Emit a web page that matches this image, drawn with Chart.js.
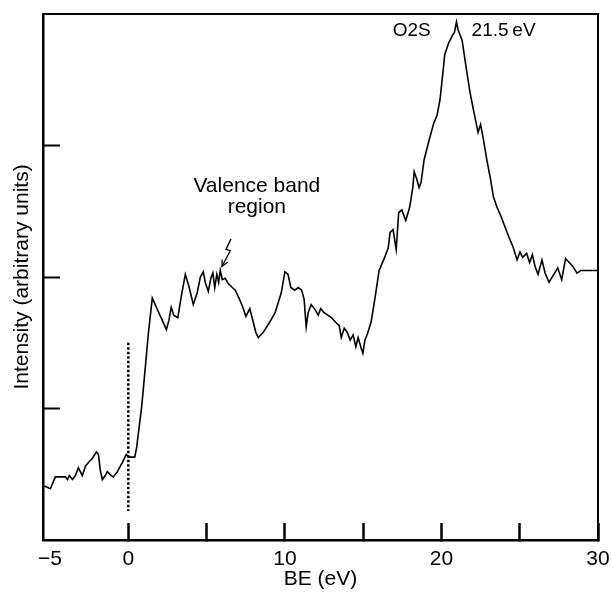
<!DOCTYPE html>
<html>
<head>
<meta charset="utf-8">
<script src="https://cdn.jsdelivr.net/npm/chart.js@4/dist/chart.umd.min.js"></script>
<style>
    html, body { margin: 0; padding: 0; background: #fff; }
    #wrap { width: 611px; height: 592px; }
</style>
</head>
<body>
<div id="wrap"><canvas id="myChart" width="611" height="592"></canvas></div>
<script>
const COLOUR_INK = '#000';
const FONT_FAMILY = "'Liberation Sans', Arial, Helvetica, sans-serif";

// spectrum (BE in eV, intensity in tick units)
const beEV = [
    -5.36, -4.98, -4.66, -4.53, -4.02, -3.89, -3.77, -3.57, -3.38, -3.19, -2.94, -2.74, -2.55, -2.30, -2.04, -1.91,
    -1.79, -1.66, -1.47, -1.34, -1.09, -0.96, -0.70, -0.38, -0.13, 0.06, 0.41, 0.54, 0.67, 0.83, 0.89,
    1.09, 1.28, 1.53, 1.79, 2.17, 2.43, 2.59, 2.74, 2.90, 3.16, 3.38, 3.64, 3.89, 4.15, 4.40, 4.60, 4.79, 4.91,
    5.11, 5.27, 5.40, 5.52, 5.65, 5.77, 5.87, 6.00, 6.19, 6.38, 6.64, 6.83, 7.07, 7.31, 7.51, 7.76, 7.91, 8.14,
    8.30, 8.62, 9.00, 9.38, 9.77, 10.00, 10.20, 10.38, 10.63, 10.85, 11.07, 11.23, 11.36, 11.49, 11.68, 11.94,
    12.13, 12.29, 12.49, 12.74, 12.99, 13.21, 13.47, 13.60, 13.79, 13.98, 14.17, 14.36, 14.53, 14.68, 14.87,
    14.98, 15.11, 15.28, 15.51, 15.77, 16.02, 16.34, 16.60, 16.72, 16.91, 17.11, 17.27, 17.47, 17.72, 17.97,
    18.17, 18.26, 18.41, 18.57, 18.70, 18.89, 19.21, 19.51, 19.72, 19.91, 20.09, 20.21, 20.46, 20.71, 20.83,
    20.96, 21.06, 21.32, 21.57, 21.83, 22.08, 22.34, 22.50, 22.66, 22.90, 23.14, 23.32,
    23.55, 23.81, 24.06, 24.32, 24.57, 24.83, 25.02, 25.19, 25.44, 25.63, 25.81, 25.98, 26.17, 26.42, 26.62,
    26.87, 27.18, 27.43, 27.68, 27.93, 28.17, 28.40, 28.66, 28.91, 29.43, 29.94
];
const intensity = [
    0.41, 0.39, 0.48, 0.48, 0.48, 0.46, 0.49, 0.46, 0.49, 0.55, 0.49, 0.56, 0.59, 0.62, 0.67, 0.65,
    0.53, 0.46, 0.49, 0.52, 0.49, 0.48, 0.52, 0.59, 0.65, 0.63, 0.63, 0.71, 0.84, 0.99, 1.06,
    1.32, 1.57, 1.84, 1.77, 1.67, 1.60, 1.67, 1.77, 1.71, 1.69, 1.85, 2.02, 1.92, 1.79, 1.88, 2.00, 2.04, 1.96,
    1.89, 1.99, 2.03, 1.92, 2.02, 1.96, 2.05, 1.98, 1.99, 1.95, 1.92, 1.90, 1.84, 1.77, 1.70, 1.76, 1.69, 1.58,
    1.54, 1.58, 1.65, 1.73, 1.88, 2.04, 2.02, 1.92, 1.90, 1.92, 1.90, 1.83, 1.62, 1.73, 1.79, 1.75,
    1.71, 1.76, 1.73, 1.71, 1.69, 1.66, 1.63, 1.54, 1.61, 1.58, 1.52, 1.56, 1.47, 1.54, 1.46,
    1.42, 1.52, 1.57, 1.66, 1.85, 2.05, 2.14, 2.22, 2.34, 2.36, 2.21, 2.49, 2.51, 2.43, 2.53,
    2.68, 2.80, 2.75, 2.68, 2.72, 2.89, 3.04, 3.17, 3.23, 3.35, 3.55, 3.69, 3.78, 3.84, 3.86,
    3.94, 3.88, 3.80, 3.60, 3.40, 3.25, 3.10, 3.16, 3.06, 2.89, 2.74, 2.61,
    2.53, 2.46, 2.38, 2.30, 2.23, 2.13, 2.19, 2.15, 2.18, 2.11, 2.17, 2.08, 2.02, 2.13, 2.03,
    1.96, 2.02, 2.07, 1.98, 2.14, 2.11, 2.08, 2.03, 2.05, 2.05, 2.05
];

// dotted Fermi level marker at 0 eV
const fermiX = [0, 0];
const fermiY = [1.50, 0.22];

const xTickValues = [-5, 0, 5, 10, 15, 20, 25, 30];
const xTickLabels = ['\u22125', '0', '', '10', '', '20', '', '30'];
const yTickValues = [1, 2, 3];

// annotations (data coordinates)
const labelTexts = ['Valence band', 'region', 'O2S', '21.5\u2009eV'];
const labelX = [8.21, 8.21, 18.10, 23.97];
const labelY = [2.69, 2.53, 3.87, 3.87];
const labelSize = [21, 21, 19, 19];
const arrowX = [6.56, 6.24, 6.51, 5.98];
const arrowY = [2.29, 2.21, 2.20, 2.08];

var spectrumData = beEV.map((v, i) => ({ x: v, y: intensity[i] }));
var fermiData = fermiX.map((v, i) => ({ x: v, y: fermiY[i] }));

const annotations = {
    id: 'annotations',
    afterDraw(chart) {
        const { ctx, chartArea, scales: { x, y } } = chart;
        ctx.save();
        // frame top + right
        ctx.strokeStyle = COLOUR_INK;
        ctx.lineWidth = 2;
        ctx.beginPath();
        ctx.moveTo(chartArea.left, chartArea.top);
        ctx.lineTo(chartArea.right, chartArea.top);
        ctx.lineTo(chartArea.right, chartArea.bottom);
        ctx.stroke();

        ctx.fillStyle = COLOUR_INK;
        ctx.textAlign = 'center';
        ctx.textBaseline = 'middle';
        labelTexts.forEach((t, i) => {
            ctx.font = labelSize[i] + 'px ' + FONT_FAMILY;
            ctx.fillText(t, x.getPixelForValue(labelX[i]), y.getPixelForValue(labelY[i]));
        });

        // zigzag arrow
        var pts = arrowX.map((v, i) => [x.getPixelForValue(v), y.getPixelForValue(arrowY[i])]);
        ctx.lineWidth = 1.3;
        ctx.beginPath();
        pts.forEach((p, i) => i ? ctx.lineTo(p[0], p[1]) : ctx.moveTo(p[0], p[1]));
        ctx.stroke();
        var tip = pts[pts.length - 1], prev = pts[pts.length - 2];
        var ang = Math.atan2(tip[1] - prev[1], tip[0] - prev[0]);
        ctx.beginPath();
        ctx.moveTo(tip[0] - 7 * Math.cos(ang - 0.45), tip[1] - 7 * Math.sin(ang - 0.45));
        ctx.lineTo(tip[0], tip[1]);
        ctx.lineTo(tip[0] - 7 * Math.cos(ang + 0.45), tip[1] - 7 * Math.sin(ang + 0.45));
        ctx.stroke();
        ctx.restore();
    }
};

var ctx = document.getElementById('myChart');
var myChart = new Chart(ctx, {
    type: 'line',
    data: {
        datasets: [{
            label: 'Spectrum',
            data: spectrumData,
            borderColor: COLOUR_INK,
            borderWidth: 1.6,
            pointRadius: 0,
            tension: 0,
            fill: false
        }, {
            label: 'Fermi level',
            data: fermiData,
            borderColor: COLOUR_INK,
            borderWidth: 2.5,
            borderDash: [2.5, 2],
            pointRadius: 0,
            fill: false
        }]
    },
    options: {
        responsive: false,
        devicePixelRatio: 1,
        animation: false,
        layout: { padding: { top: 14, right: 13, left: 0, bottom: 0 } },
        plugins: {
            legend: { display: false },
            tooltip: { enabled: false }
        },
        scales: {
            x: {
                type: 'linear',
                min: -5.45,
                max: 30,
                afterBuildTicks: (s) => { s.ticks = xTickValues.map((v) => ({ value: v })); },
                afterFit: (s) => {
                    s.height = 52;
                    s.paddingLeft = 0;
                    s.paddingRight = 0;
                },
                ticks: {
                    autoSkip: false,
                    maxRotation: 0,
                    padding: 24,
                    color: COLOUR_INK,
                    font: { family: FONT_FAMILY, size: 21 },
                    callback: (v) => xTickLabels[xTickValues.indexOf(v)]
                },
                grid: {
                    drawOnChartArea: false,
                    tickLength: -17,
                    tickWidth: 2.5,
                    tickColor: (c) => (c.tick && c.tick.value === -5) ? 'rgba(0,0,0,0)' : COLOUR_INK
                },
                border: { color: COLOUR_INK, width: 2.5 },
                title: {
                    display: true,
                    text: 'BE (eV)',
                    color: COLOUR_INK,
                    font: { family: FONT_FAMILY, size: 21 },
                    padding: { top: 0, bottom: 0 }
                }
            },
            y: {
                type: 'linear',
                min: 0,
                max: 4,
                afterBuildTicks: (s) => { s.ticks = yTickValues.map((v) => ({ value: v })); },
                afterFit: (s) => {
                    s.width = 43;
                    s.paddingTop = 0;
                    s.paddingBottom = 0;
                },
                ticks: { display: false },
                grid: {
                    drawOnChartArea: false,
                    tickLength: -17,
                    tickWidth: 2,
                    tickColor: COLOUR_INK
                },
                border: { color: COLOUR_INK, width: 2.5 },
                title: {
                    display: true,
                    text: 'Intensity (arbitrary units)',
                    color: COLOUR_INK,
                    font: { family: FONT_FAMILY, size: 21 },
                    padding: { top: 10, bottom: 0 }
                }
            }
        }
    },
    plugins: [annotations]
});
</script>
</body>
</html>
